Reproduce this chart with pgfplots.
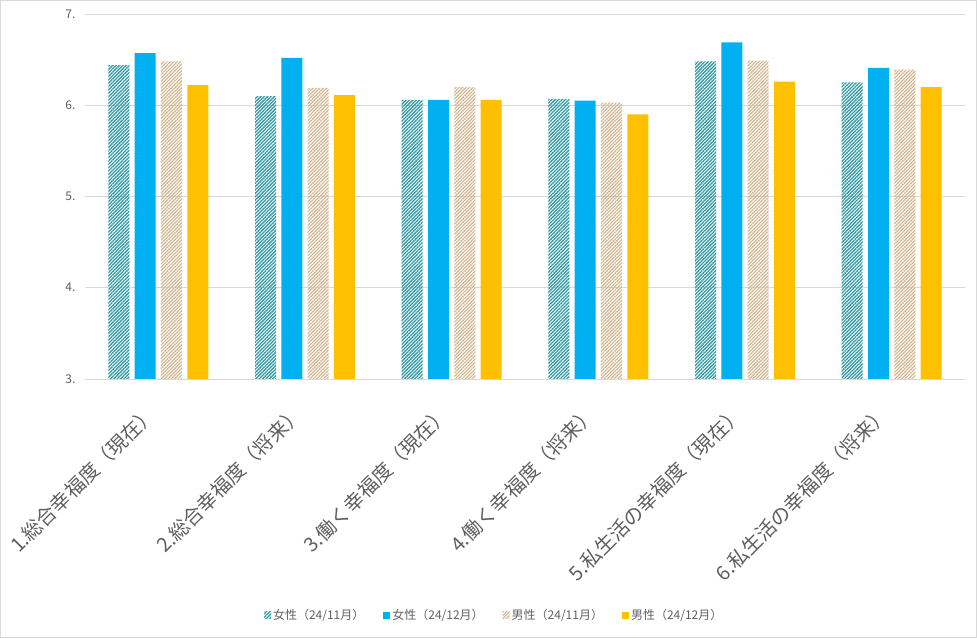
\documentclass[border=0pt]{standalone}
\usepackage{fontspec}
\setmainfont{Noto Sans CJK JP}
\usepackage{pgfplots}
\pgfplotsset{compat=1.18}
\usetikzlibrary{patterns.meta}
\definecolor{txt}{HTML}{5F5F5F}
\definecolor{gridc}{HTML}{D9D9D9}
\definecolor{teal1}{HTML}{2E98A4}
\definecolor{blue1}{HTML}{00B0F0}
\definecolor{tan1}{HTML}{D3B690}
\definecolor{yel1}{HTML}{FFC000}
\pgfplotstableread{
x a b c d
0 6.44 6.57 6.48 6.22
1 6.10 6.52 6.19 6.11
2 6.06 6.06 6.20 6.06
3 6.07 6.05 6.03 5.90
4 6.48 6.69 6.49 6.26
5 6.25 6.41 6.39 6.20
}\data
\begin{document}
\begin{tikzpicture}
\useasboundingbox (0,0) rectangle (977bp,638bp);
\draw[gridc,line width=0.8pt] (0.5bp,0.5bp) rectangle (976.5bp,637.5bp);
\begin{axis}[
  at={(85bp,259bp)}, anchor=south west,
  scale only axis, width=880bp, height=365bp,
  ymin=3, ymax=7, xmin=-0.5, xmax=5.5,
  ytick={3,4,5,6,7}, yticklabels={3.,4.,5.,6.,7.},
  xtick=data,
  xticklabels={1.総合幸福度（現在）,2.総合幸福度（将来）,3.働く幸福度（現在）,4.働く幸福度（将来）,5.私生活の幸福度（現在）,6.私生活の幸福度（将来）},
  ybar=5.3bp, bar width=21bp,
  axis line style={draw=none},
  ymajorgrids, grid style={gridc, line width=0.8pt},
  major tick length=0pt,
  yticklabel style={font=\fontsize{12bp}{14bp}\selectfont, text=txt, anchor=east, xshift=-6bp},
  xticklabel style={font=\fontsize{19.9bp}{23bp}\selectfont, text=txt, xshift=-3.7bp, yshift=-28.7bp, rotate=45, anchor=east},
  legend columns=4,
  legend style={at={(0.465,-0.6466)}, anchor=center, draw=none, fill=none,
    font=\fontsize{12bp}{14bp}\selectfont, text=txt,
    /tikz/every even column/.append style={column sep=17bp}},
  legend image code/.code={\fill[#1] (0bp,-3.5bp) rectangle (7bp,3.5bp);},
]
\addplot[draw=none, pattern={Lines[angle=45,distance=2.4pt,line width=1.3pt]}, pattern color=teal1] table[x=x,y=a]{\data};
\addplot[draw=none, fill=blue1] table[x=x,y=b]{\data};
\addplot[draw=none, pattern={Lines[angle=45,distance=2.4pt,line width=1.2pt]}, pattern color=tan1] table[x=x,y=c]{\data};
\addplot[draw=none, fill=yel1] table[x=x,y=d]{\data};
\legend{女性（24/11月）,女性（24/12月）,男性（24/11月）,男性（24/12月）}
\end{axis}
\end{tikzpicture}
\end{document}
